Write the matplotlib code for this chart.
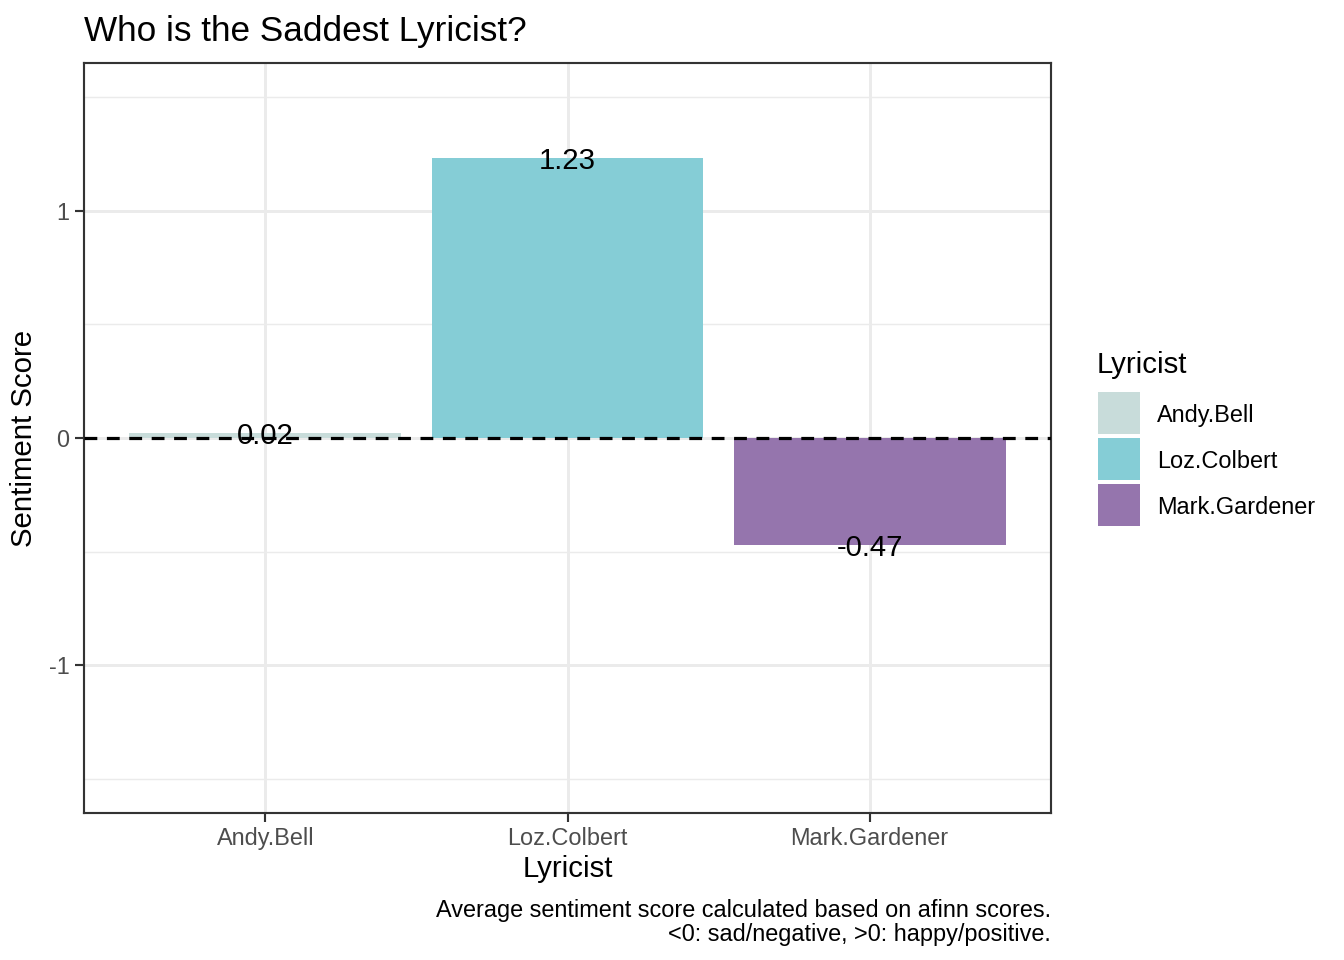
import matplotlib
matplotlib.use("Agg")
import matplotlib.pyplot as plt
from matplotlib.patches import Rectangle

plt.rcParams['font.family'] = ['Liberation Sans', 'DejaVu Sans']

lyricists = ["Andy.Bell", "Loz.Colbert", "Mark.Gardener"]
scores = [0.02, 1.23, -0.47]
labels = ["0.02", "1.23", "-0.47"]
colors = ["#C8DCDA", "#85CDD6", "#9575AD"]

DPI = 192
fig = plt.figure(figsize=(1344 / DPI, 960 / DPI), dpi=DPI)
W, H = 1344, 960
ax = fig.add_axes([84 / W, 1 - 813 / H, (1051 - 84) / W, (813 - 63) / H])

x = list(range(1, len(lyricists) + 1))
ax.set_xlim(0.4, 3.6)
ax.set_ylim(-1.65, 1.65)

# grid
for yv in [-1.5, -0.5, 0.5, 1.5]:
    ax.axhline(yv, color="#EBEBEB", lw=0.55, zorder=0)
for yv in [-1, 0, 1]:
    ax.axhline(yv, color="#EBEBEB", lw=1.1, zorder=0)
for xv in x:
    ax.axvline(xv, color="#EBEBEB", lw=1.1, zorder=0)

ax.bar(x, scores, width=0.9, color=colors, zorder=2)
ax.axhline(0, color="black", lw=1.2, ls=(0, (4, 3)), zorder=3)
for xi, s, lab in zip(x, scores, labels):
    ax.text(xi, s, lab, ha="center", va="center_baseline", fontsize=11, color="black", zorder=4)

ax.set_xticks(x)
ax.set_xticklabels(lyricists)
ax.set_yticks([-1, 0, 1])
ax.set_yticklabels(["-1", "0", "1"])
ax.tick_params(axis="both", length=3.5, width=0.8, color="#333333", labelcolor="#4D4D4D",
               labelsize=8.8, pad=2)
ax.tick_params(axis="x", pad=1.6)
for sp in ax.spines.values():
    sp.set_color("#333333")
    sp.set_linewidth(0.8)

ax.set_xlabel("Lyricist", fontsize=11, labelpad=2)
ax.set_ylabel("Sentiment Score", fontsize=11, labelpad=4)

fig.text(84 / W, 1 - 31 / H, "Who is the Saddest Lyricist?", fontsize=13.2, ha="left", va="center")
fig.text(1051 / W, 1 - 922.5 / H,
         "Average sentiment score calculated based on afinn scores.\n<0: sad/negative, >0: happy/positive.",
         fontsize=8.8, ha="right", va="center", linespacing=1.1)

# legend
fig.text(1097 / W, 1 - 365 / H, "Lyricist", fontsize=11, ha="left", va="center")
key_tops = [392, 438, 484]
for name, col, top in zip(lyricists, colors, key_tops):
    fig.add_artist(Rectangle((1098 / W, 1 - (top + 42) / H), 42 / W, 42 / H,
                             transform=fig.transFigure, facecolor=col, edgecolor="none"))
    fig.text(1157 / W, 1 - (top + 23) / H, name, fontsize=8.8, ha="left", va="center")

fig.savefig("out.png", dpi=DPI)
